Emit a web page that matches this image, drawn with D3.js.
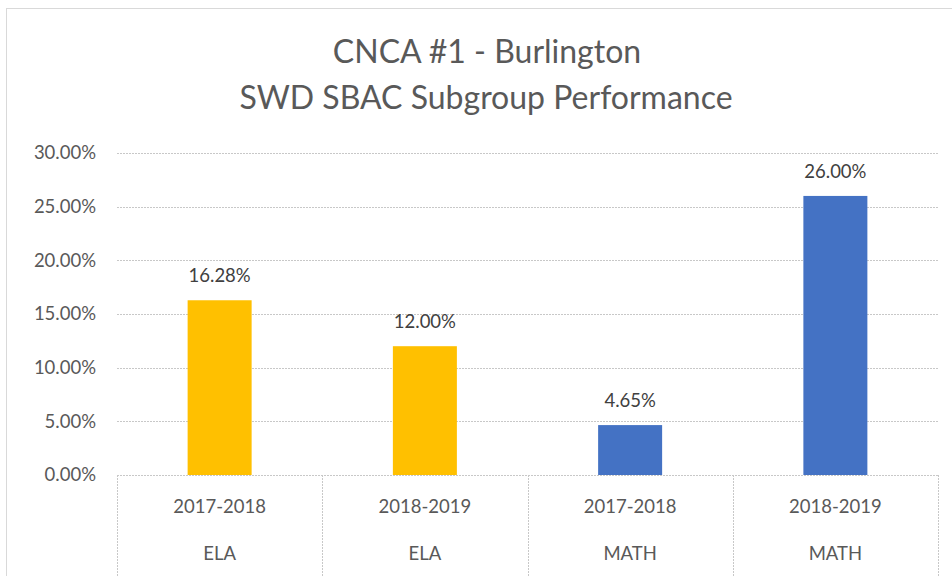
<!DOCTYPE html>
<html>
<head>
<meta charset="utf-8">
<script src="https://cdn.jsdelivr.net/npm/d3@7"></script>
<style>
  body { margin: 0; background: #fff; }
  svg text { font-family: Lato, "Open Sans", sans-serif; }
</style>
</head>
<body>
<div id="chart"></div>
<script>
// chart data
const years = ["2017-2018", "2018-2019", "2017-2018", "2018-2019"];
const subjects = ["ELA", "ELA", "MATH", "MATH"];
const values = [0.1628, 0.12, 0.0465, 0.26];
const yTicks = [0, 0.05, 0.10, 0.15, 0.20, 0.25, 0.30];

const colorBySubject = { ELA: "#FFC000", MATH: "#4472C4" };

const width = 952, height = 576;
const margin = { left: 117, right: 14, top: 153, bottom: 101 };

const svg = d3.select("#chart")
    .append("svg")
    .attr("width", width)
    .attr("height", height);

// outer chart border (only left/top visible in the crop)
svg.append("rect")
    .attr("x", 6.5).attr("y", 8.5)
    .attr("width", 980).attr("height", 600)
    .style("fill", "none")
    .style("stroke", "#d9d9d9");

// title
const title = svg.append("text")
    .attr("text-anchor", "middle")
    .style("font-size", "32px")
    .style("fill", "#595959");
title.append("tspan").attr("x", 487).attr("y", 63).text("CNCA #1 - Burlington");
title.append("tspan").attr("x", 486).attr("y", 109).text("SWD SBAC Subgroup Performance");

const x = d3.scaleBand()
    .domain(d3.range(values.length))
    .range([margin.left, width - margin.right])
    .padding(0);

const y = d3.scaleLinear()
    .domain([0, 0.30])
    .range([height - margin.bottom, margin.top]);

// gridlines
svg.append("g")
    .selectAll("line")
    .data(yTicks.slice(1))
    .join("line")
    .attr("x1", margin.left)
    .attr("x2", width - margin.right)
    .attr("y1", d => Math.round(y(d)) + 0.5)
    .attr("y2", d => Math.round(y(d)) + 0.5)
    .style("stroke", "#c8c8c8")
    .style("stroke-dasharray", "2,1");

// y axis labels
const fmt = d3.format(".2%");
svg.append("g")
    .selectAll("text")
    .data(yTicks)
    .join("text")
    .attr("x", 96)
    .attr("y", d => y(d))
    .attr("dy", "0.35em")
    .attr("text-anchor", "end")
    .style("font-size", "18.5px")
    .style("fill", "#595959")
    .text(d => fmt(d));

// bars
const barW = 64;
svg.append("g")
    .selectAll("rect")
    .data(values)
    .join("rect")
    .attr("x", (d, i) => x(i) + x.bandwidth() / 2 - barW / 2)
    .attr("y", d => y(d))
    .attr("width", barW)
    .attr("height", d => y(0) - y(d))
    .style("fill", (d, i) => colorBySubject[subjects[i]]);

// data labels
svg.append("g")
    .selectAll("text")
    .data(values)
    .join("text")
    .attr("x", (d, i) => x(i) + x.bandwidth() / 2)
    .attr("y", d => y(d) - 18)
    .attr("text-anchor", "middle")
    .style("font-size", "18.5px")
    .style("fill", "#404040")
    .text(d => fmt(d));

// category axis line + separators
svg.append("line")
    .attr("x1", margin.left).attr("x2", width - margin.right)
    .attr("y1", y(0) + 0.5).attr("y2", y(0) + 0.5)
    .style("stroke", "#c8c8c8")
    .style("stroke-dasharray", "2,1");

const edges = d3.range(values.length + 1).map(i => i < values.length ? x(i) : x(i - 1) + x.bandwidth());
svg.append("g")
    .selectAll("line")
    .data(edges)
    .join("line")
    .attr("x1", d => Math.round(d) + 0.5)
    .attr("x2", d => Math.round(d) + 0.5)
    .attr("y1", y(0))
    .attr("y2", height)
    .style("stroke", "#c8c8c8")
    .style("stroke-dasharray", "2,1");

// category labels (two levels)
svg.append("g")
    .selectAll("text")
    .data(years)
    .join("text")
    .attr("x", (d, i) => x(i) + x.bandwidth() / 2)
    .attr("y", 513)
    .attr("text-anchor", "middle")
    .style("font-size", "18.5px")
    .style("fill", "#595959")
    .text(d => d);

svg.append("g")
    .selectAll("text")
    .data(subjects)
    .join("text")
    .attr("x", (d, i) => x(i) + x.bandwidth() / 2)
    .attr("y", 560)
    .attr("text-anchor", "middle")
    .style("font-size", "18.5px")
    .style("fill", "#595959")
    .text(d => d);
</script>
</body>
</html>
